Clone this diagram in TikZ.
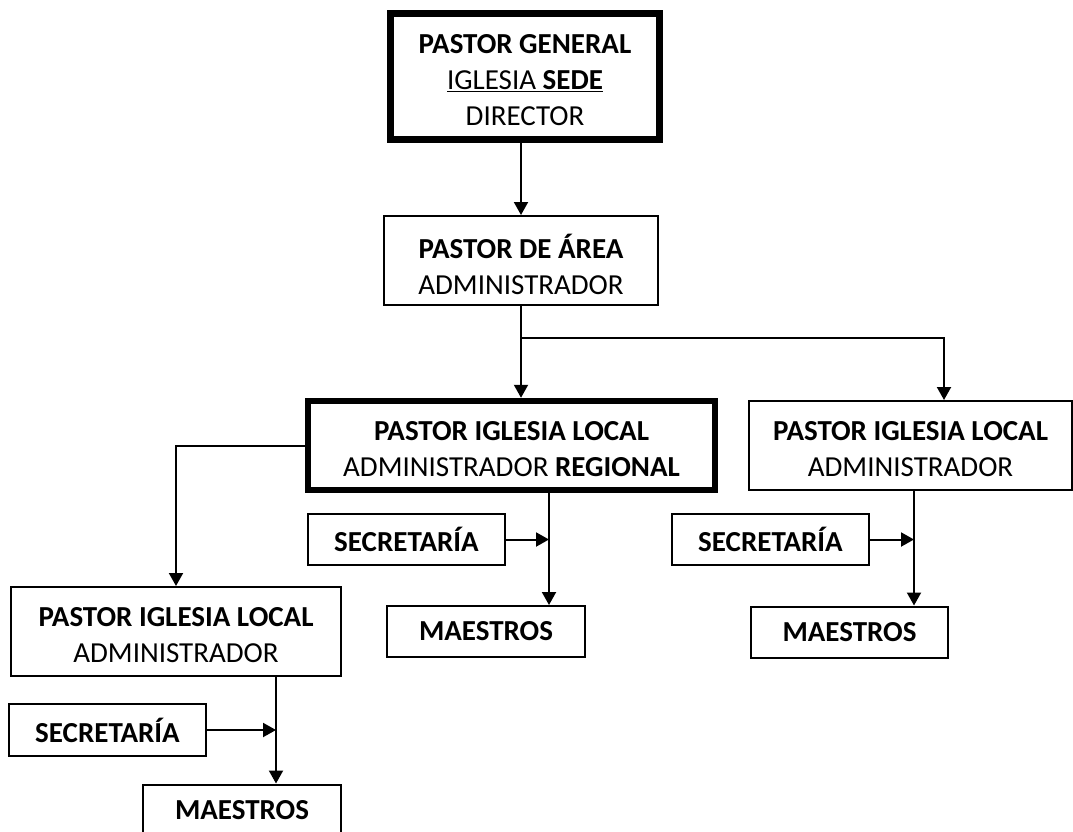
\documentclass[tikz,border=0pt]{standalone}
\usepackage{fontspec}
\setmainfont{Carlito}
\usetikzlibrary{arrows.meta}
\begin{document}
\begin{tikzpicture}[x=1pt,y=-1pt,
  box/.style={draw, line width=2pt, outer sep=auto, inner sep=0pt, align=center,
    font=\fontsize{29}{36}\selectfont},
  thickbox/.style={box, line width=6.5pt},
  txt/.style={label={[font=\fontsize{29}{36}\selectfont, align=center, inner sep=0pt, yshift=-3.5pt]center:#1}},
  conn/.style={line width=2pt},
  arr/.style={conn, -{Triangle[length=13pt,width=14pt]}}]
\useasboundingbox (0,0) rectangle (1073,832);
% main boxes
\node[thickbox, minimum width=269pt, minimum height=126pt,
  txt={\textbf{PASTOR GENERAL}\\\underline{IGLESIA \textbf{SEDE}}\\DIRECTOR}] (A) at (525,76.5) {};
\node[box, minimum width=274pt, minimum height=89pt,
  txt={\textbf{PASTOR DE ÁREA}\\ADMINISTRADOR}] (B) at (521,260.5) {};
\node[thickbox, minimum width=407pt, minimum height=89pt,
  txt={\textbf{PASTOR IGLESIA LOCAL}\\ADMINISTRADOR \textbf{REGIONAL}}] (C) at (511.5,445.5) {};
\node[box, minimum width=323pt, minimum height=89pt,
  txt={\textbf{PASTOR IGLESIA LOCAL}\\ADMINISTRADOR}] (D) at (910.5,445.5) {};
\node[box, minimum width=330pt, minimum height=89pt,
  txt={\textbf{PASTOR IGLESIA LOCAL}\\ADMINISTRADOR}] (E) at (176,631.5) {};
% secretaria boxes
\node[box, minimum width=197pt, minimum height=51pt] (S1) at (406.5,539.5) {\textbf{SECRETARÍA}};
\node[box, minimum width=197pt, minimum height=51pt] (S2) at (770.5,539.5) {\textbf{SECRETARÍA}};
\node[box, minimum width=197pt, minimum height=52pt] (S3) at (107.5,730) {\textbf{SECRETARÍA}};
% maestros boxes
\node[box, minimum width=198pt, minimum height=51pt] (M1) at (486,631.5) {\raisebox{-1.5pt}{\textbf{MAESTROS}}};
\node[box, minimum width=197pt, minimum height=51pt] (M2) at (849.5,632) {\raisebox{-1.5pt}{\textbf{MAESTROS}}};
\node[box, minimum width=198pt, minimum height=51pt] (M3) at (242,810) {\raisebox{-1.5pt}{\textbf{MAESTROS}}};
% connectors
\draw[arr] (A.south -| B.north) -- (B.north);
\coordinate (j) at (521,338);
\coordinate (jr) at (944,338);
\draw[conn] (B.south) -- (j);
\draw[arr] (j) -- (j |- C.north);
\draw[arr] (j) -- (jr) -- (jr |- D.north);
\draw[arr] (C.west) -| (E.north);
\coordinate (v1) at (549,539.5);
\coordinate (v2) at (914,539.5);
\coordinate (v3) at (276,730);
\draw[arr] (C.south -| v1) -- (M1.north -| v1);
\draw[arr] (D.south -| v2) -- (M2.north -| v2);
\draw[arr] (E.south -| v3) -- (M3.north -| v3);
\draw[arr] (S1.east) -- (v1);
\draw[arr] (S2.east) -- (v2);
\draw[arr] (S3.east) -- (v3);
\end{tikzpicture}
\end{document}
